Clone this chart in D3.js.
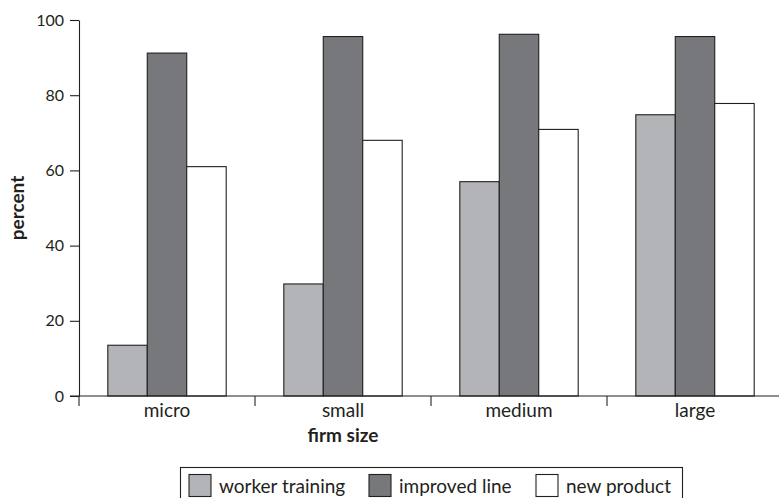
<!DOCTYPE html>
<html>
<head>
<meta charset="utf-8">
<script src="https://cdn.jsdelivr.net/npm/d3@7"></script>
<style>
  html, body { margin: 0; padding: 0; background: #fff; }
  svg { display: block; }
  text { font-family: Lato, "Open Sans", sans-serif; fill: #231f20; }
</style>
</head>
<body>
<svg id="chart" width="779" height="498"></svg>
<script>
const categories = ["micro", "small", "medium", "large"];
const seriesNames = ["worker training", "improved line", "new product"];
const workerTraining = [13.5, 29.8, 57.0, 74.8];
const improvedLine = [91.2, 95.6, 96.2, 95.6];
const newProduct = [61.0, 68.0, 70.9, 77.8];
const yTicks = [0, 20, 40, 60, 80, 100];
const colors = ["#b3b4b8", "#77787c", "#ffffff"];

const seriesValues = [workerTraining, improvedLine, newProduct];
const stroke = "#231f20";

const svg = d3.select("#chart");
const x0 = 79, x1 = 783, y0 = 396, y1 = 20;

const x = d3.scaleBand().domain(categories).range([x0, x1]).paddingInner(0).paddingOuter(0);
const xs = d3.scaleBand().domain(seriesNames).range([0, x.bandwidth()]).paddingInner(0).paddingOuter(0.73);
const y = d3.scaleLinear().domain([0, 100]).range([y0, y1]);

// bars
const groups = svg.append("g").selectAll("g")
  .data(categories)
  .join("g")
  .attr("transform", d => `translate(${x(d)},0)`);

groups.selectAll("rect")
  .data((c, i) => seriesNames.map((s, j) => ({ s, j, v: seriesValues[j][i] })))
  .join("rect")
  .attr("x", d => xs(d.s))
  .attr("width", xs.bandwidth())
  .attr("y", d => y(d.v))
  .attr("height", d => y0 - y(d.v))
  .attr("fill", d => colors[d.j])
  .attr("stroke", stroke)
  .attr("stroke-width", 1.1);

// y axis
const yAxis = svg.append("g")
  .attr("transform", `translate(${x0},0)`)
  .call(d3.axisLeft(y).tickValues(yTicks).tickSize(9).tickPadding(6).tickSizeOuter(0));
yAxis.select(".domain").attr("stroke", stroke).attr("stroke-width", 1.1);
yAxis.selectAll(".tick line").attr("stroke", stroke).attr("stroke-width", 1.1);
yAxis.selectAll(".tick text").attr("font-size", 16).attr("font-family", "Lato, sans-serif").attr("fill", stroke);

// x axis
const xAxis = svg.append("g")
  .attr("transform", `translate(0,${y0})`)
  .call(d3.axisBottom(x).tickSize(0).tickPadding(8).tickSizeOuter(0));
xAxis.select(".domain").remove();
xAxis.selectAll(".tick text").attr("font-size", 19).attr("font-family", "Lato, sans-serif").attr("fill", stroke);
svg.append("line")
  .attr("x1", 70).attr("x2", 779).attr("y1", y0).attr("y2", y0)
  .attr("stroke", stroke).attr("stroke-width", 1.1);
// category boundary ticks
svg.append("g").selectAll("line")
  .data(categories)
  .join("line")
  .attr("x1", d => x(d)).attr("x2", d => x(d))
  .attr("y1", y0).attr("y2", y0 + 10)
  .attr("stroke", stroke).attr("stroke-width", 1.1);

// axis titles
svg.append("text")
  .attr("transform", `translate(24,208) rotate(-90)`)
  .attr("text-anchor", "middle")
  .attr("font-size", 19)
  .attr("font-weight", "bold")
  .text("percent");
svg.append("text")
  .attr("x", 343).attr("y", 442)
  .attr("text-anchor", "middle")
  .attr("font-size", 19)
  .attr("font-weight", "bold")
  .text("firm size");

// legend
const legend = svg.append("g");
legend.append("rect")
  .attr("x", 180.5).attr("y", 467.5).attr("width", 502).attr("height", 40)
  .attr("fill", "none").attr("stroke", stroke).attr("stroke-width", 1.1);
const legendX = [189, 369, 536];
const li = legend.selectAll("g.item")
  .data(seriesNames)
  .join("g").attr("class", "item")
  .attr("transform", (d, i) => `translate(${legendX[i]},474.5)`);
li.append("rect")
  .attr("width", 22).attr("height", 22)
  .attr("fill", (d, i) => colors[i])
  .attr("stroke", stroke).attr("stroke-width", 1.1);
li.append("text")
  .attr("x", 30).attr("y", 18.5)
  .attr("font-size", 19)
  .text(d => d);
</script>
</body>
</html>
